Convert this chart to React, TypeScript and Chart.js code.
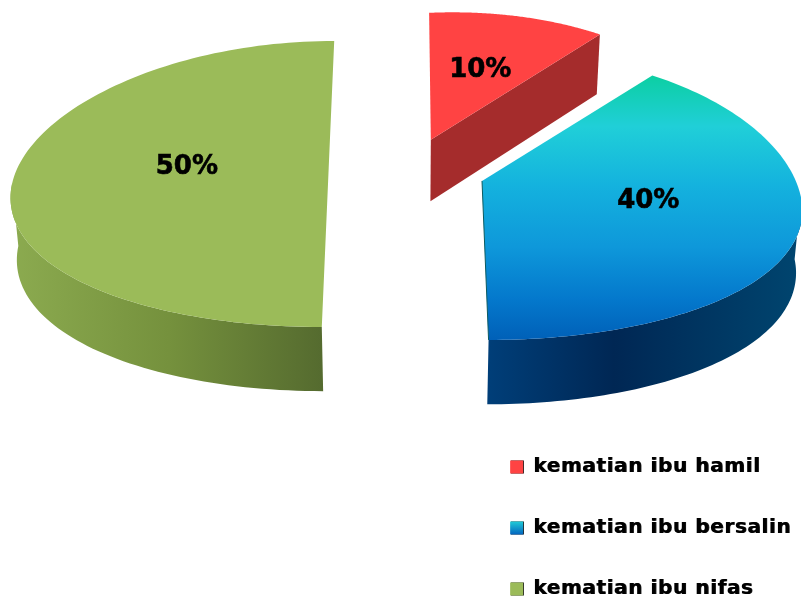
import React, { useEffect, useRef } from "react";
import { Chart, registerables } from "chart.js";

Chart.register(...registerables);

const categories = ["kematian ibu hamil", "kematian ibu bersalin", "kematian ibu nifas"];
const shares = [10, 40, 50];
const legendSwatches = ["#FF4343", "#1590DC", "#9BBB59"];

// Every wedge is pulled out of the pie by the same distance.
const EXPLODE = 79;

// Tilted-disc projection.
const CENTER_X = 407;
const CENTER_Y = 184;
const RADIUS_X = 316;
const RADIUS_Y = 143;
const EXPLODE_TILT_REAR = 0.375;
const EXPLODE_TILT_FRONT = 0.53;
const APEX_LIFT = 16;
const REAR_RIGHT_LIFT = 6;
const PERSPECTIVE = 0.00055;
const SIDE_SHRINK = 0.016;
const LABEL_RADIUS = [0.55, 0.54, 0.45];
const LABEL_LIFT = [2, 12, 8];
const LEGEND_TOP = 416;

type Pt = { x: number; y: number };

function topPoint(cx: number, cy: number, angle: number, r: number): Pt {
  const cos = Math.cos(angle);
  const sin = Math.sin(angle);
  const x = cx + RADIUS_X * r * cos;
  const y =
    cy +
    RADIUS_Y * r * sin -
    APEX_LIFT * (1 - r) -
    REAR_RIGHT_LIFT * r * 2 * Math.max(0, cos) * Math.max(0, -sin);
  return { x: CENTER_X + (x - CENTER_X) * (1 + PERSPECTIVE * (y - CENTER_Y)), y };
}

function bottomPoint(p: Pt): Pt {
  return {
    x: CENTER_X + (p.x - CENTER_X) * (1 - SIDE_SHRINK),
    y: p.y + 62 + 0.015 * (p.y - CENTER_Y),
  };
}

function addStops(g: CanvasGradient, stops: [number, string][]) {
  stops.forEach(([o, c]) => g.addColorStop(o, c));
  return g;
}

function topFill(ctx: CanvasRenderingContext2D, i: number) {
  if (i === 0) return "#FF4343";
  if (i === 2) return "#9BBB59";
  return addStops(ctx.createLinearGradient(0, 73, 0, 340), [
    [0, "#0BCFA0"],
    [0.2, "#20CFD8"],
    [0.42, "#14B2DE"],
    [0.65, "#0E98DA"],
    [0.85, "#0478CC"],
    [1, "#0060B8"],
  ]);
}

function sideFill(ctx: CanvasRenderingContext2D, i: number) {
  if (i === 0) return "#A52C2C";
  if (i === 2) {
    return addStops(ctx.createLinearGradient(15, 0, 322, 0), [
      [0, "#8BAA4F"],
      [0.5, "#75913D"],
      [1, "#556B2F"],
    ]);
  }
  return addStops(ctx.createLinearGradient(490, 0, 800, 0), [
    [0, "#003E78"],
    [0.4, "#002754"],
    [1, "#00456F"],
  ]);
}

function tracePath(ctx: CanvasRenderingContext2D, pts: Pt[]) {
  ctx.beginPath();
  pts.forEach((p, k) => (k ? ctx.lineTo(p.x, p.y) : ctx.moveTo(p.x, p.y)));
  ctx.closePath();
}

// Replaces the flat arcs with extruded wedges, using the angles the pie controller computed.
const tiltedPie = {
  id: "tiltedPie",
  beforeUpdate(chart: any) {
    chart.ctx.letterSpacing = "0.6px";
  },
  afterLayout(chart: any) {
    chart.legend.bottom += LEGEND_TOP + 60 - chart.legend.top;
    chart.legend.top = LEGEND_TOP;
  },
  // The legend is painted before the datasets; a hard offset shadow thickens its type.
  beforeDraw(chart: any) {
    chart.ctx.shadowColor = "rgba(0,0,0,0.9)";
    chart.ctx.shadowOffsetX = 0.8;
    chart.ctx.shadowBlur = 0;
  },
  beforeDatasetsDraw(chart: any) {
    const ctx: CanvasRenderingContext2D = chart.ctx;
    ctx.shadowColor = "transparent";
    ctx.shadowOffsetX = 0;
    const arcs = chart.getDatasetMeta(0).data;
    const frames = arcs.map((arc: any) => {
      const mid = (arc.startAngle + arc.endAngle) / 2;
      const d = arc.options.offset;
      const sin = Math.sin(mid);
      return {
        arc,
        mid,
        cx: CENTER_X + d * Math.cos(mid),
        cy: CENTER_Y + d * sin * (sin < 0 ? EXPLODE_TILT_REAR : EXPLODE_TILT_FRONT),
      };
    });

    [2, 1, 0].forEach((i) => {
      const { arc, cx, cy } = frames[i];
      const steps = 120;
      const apex = topPoint(cx, cy, arc.startAngle, 0);
      const rim: Pt[] = [];
      const front: Pt[] = [];
      for (let s = 0; s <= steps; s++) {
        const a = arc.startAngle + ((arc.endAngle - arc.startAngle) * s) / steps;
        const p = topPoint(cx, cy, a, 1);
        rim.push(p);
        if (Math.sin(a) >= -0.001) front.push(p);
      }
      ctx.save();
      ctx.fillStyle = sideFill(ctx, i);
      // Outer wall, only where it faces the viewer.
      if (front.length > 1) {
        tracePath(ctx, [...front, ...front.map(bottomPoint).reverse()]);
        ctx.fill();
      }
      // Cut face of a wedge whose trailing edge points towards the rear right.
      if (Math.sin(arc.endAngle) < 0 && Math.cos(arc.endAngle) > 0) {
        const end = rim[rim.length - 1];
        tracePath(ctx, [apex, end, bottomPoint(end), bottomPoint(apex)]);
        ctx.fill();
      }
      tracePath(ctx, [apex, ...rim]);
      ctx.fillStyle = topFill(ctx, i);
      ctx.fill();
      if (i === 1) {
        // Thin dark seam along the blue wedge's straight edge.
        const end = rim[rim.length - 1];
        ctx.beginPath();
        ctx.moveTo(apex.x, apex.y);
        ctx.lineTo(end.x, end.y);
        ctx.strokeStyle = "#0B5A60";
        ctx.lineWidth = 1;
        ctx.stroke();
      }
      ctx.restore();
    });

    ctx.save();
    ctx.letterSpacing = "0px";
    ctx.fillStyle = "#000";
    ctx.strokeStyle = "#000";
    ctx.lineWidth = 0.6;
    ctx.font = "bold 26px 'DejaVu Sans'";
    ctx.textAlign = "center";
    ctx.textBaseline = "middle";
    frames.forEach(({ mid, cx, cy }: any, i: number) => {
      const p = topPoint(cx, cy, mid, LABEL_RADIUS[i]);
      ctx.fillText(`${shares[i]}%`, p.x, p.y - LABEL_LIFT[i]);
      ctx.strokeText(`${shares[i]}%`, p.x, p.y - LABEL_LIFT[i]);
    });
    ctx.restore();
    return false;
  },
};

export default function App() {
  const ref = useRef<HTMLCanvasElement>(null);

  useEffect(() => {
    const chart = new Chart(ref.current!, {
      type: "pie",
      data: {
        labels: categories,
        datasets: [
          {
            data: shares,
            backgroundColor: legendSwatches,
            borderWidth: 0,
            offset: EXPLODE,
          },
        ],
      },
      plugins: [tiltedPie],
      options: {
        animation: false,
        responsive: false,
        events: [],
        plugins: {
          tooltip: { enabled: false },
          legend: {
            position: "right",
            align: "start",
            labels: {
              boxWidth: 13,
              boxHeight: 13,
              padding: 41,
              color: "#000",
              font: { family: "'DejaVu Sans'", size: 20, weight: "bold" },
              generateLabels(c: any) {
                return Chart.overrides.pie.plugins.legend.labels
                  .generateLabels(c)
                  .map((item: any, i: number) => {
                    if (i === 1) {
                      item.fillStyle = addStops(c.ctx.createLinearGradient(0, 521, 0, 534), [
                        [0, "#20CFD8"],
                        [1, "#0468C0"],
                      ]);
                    }
                    return item;
                  });
              },
            },
          },
        },
      },
    } as any);
    return () => chart.destroy();
  }, []);

  return (
    <div style={{ position: "fixed", left: 0, top: 0, width: 801, height: 599, background: "#fff" }}>
      <canvas ref={ref} width={801} height={599} style={{ display: "block" }} />
    </div>
  );
}
